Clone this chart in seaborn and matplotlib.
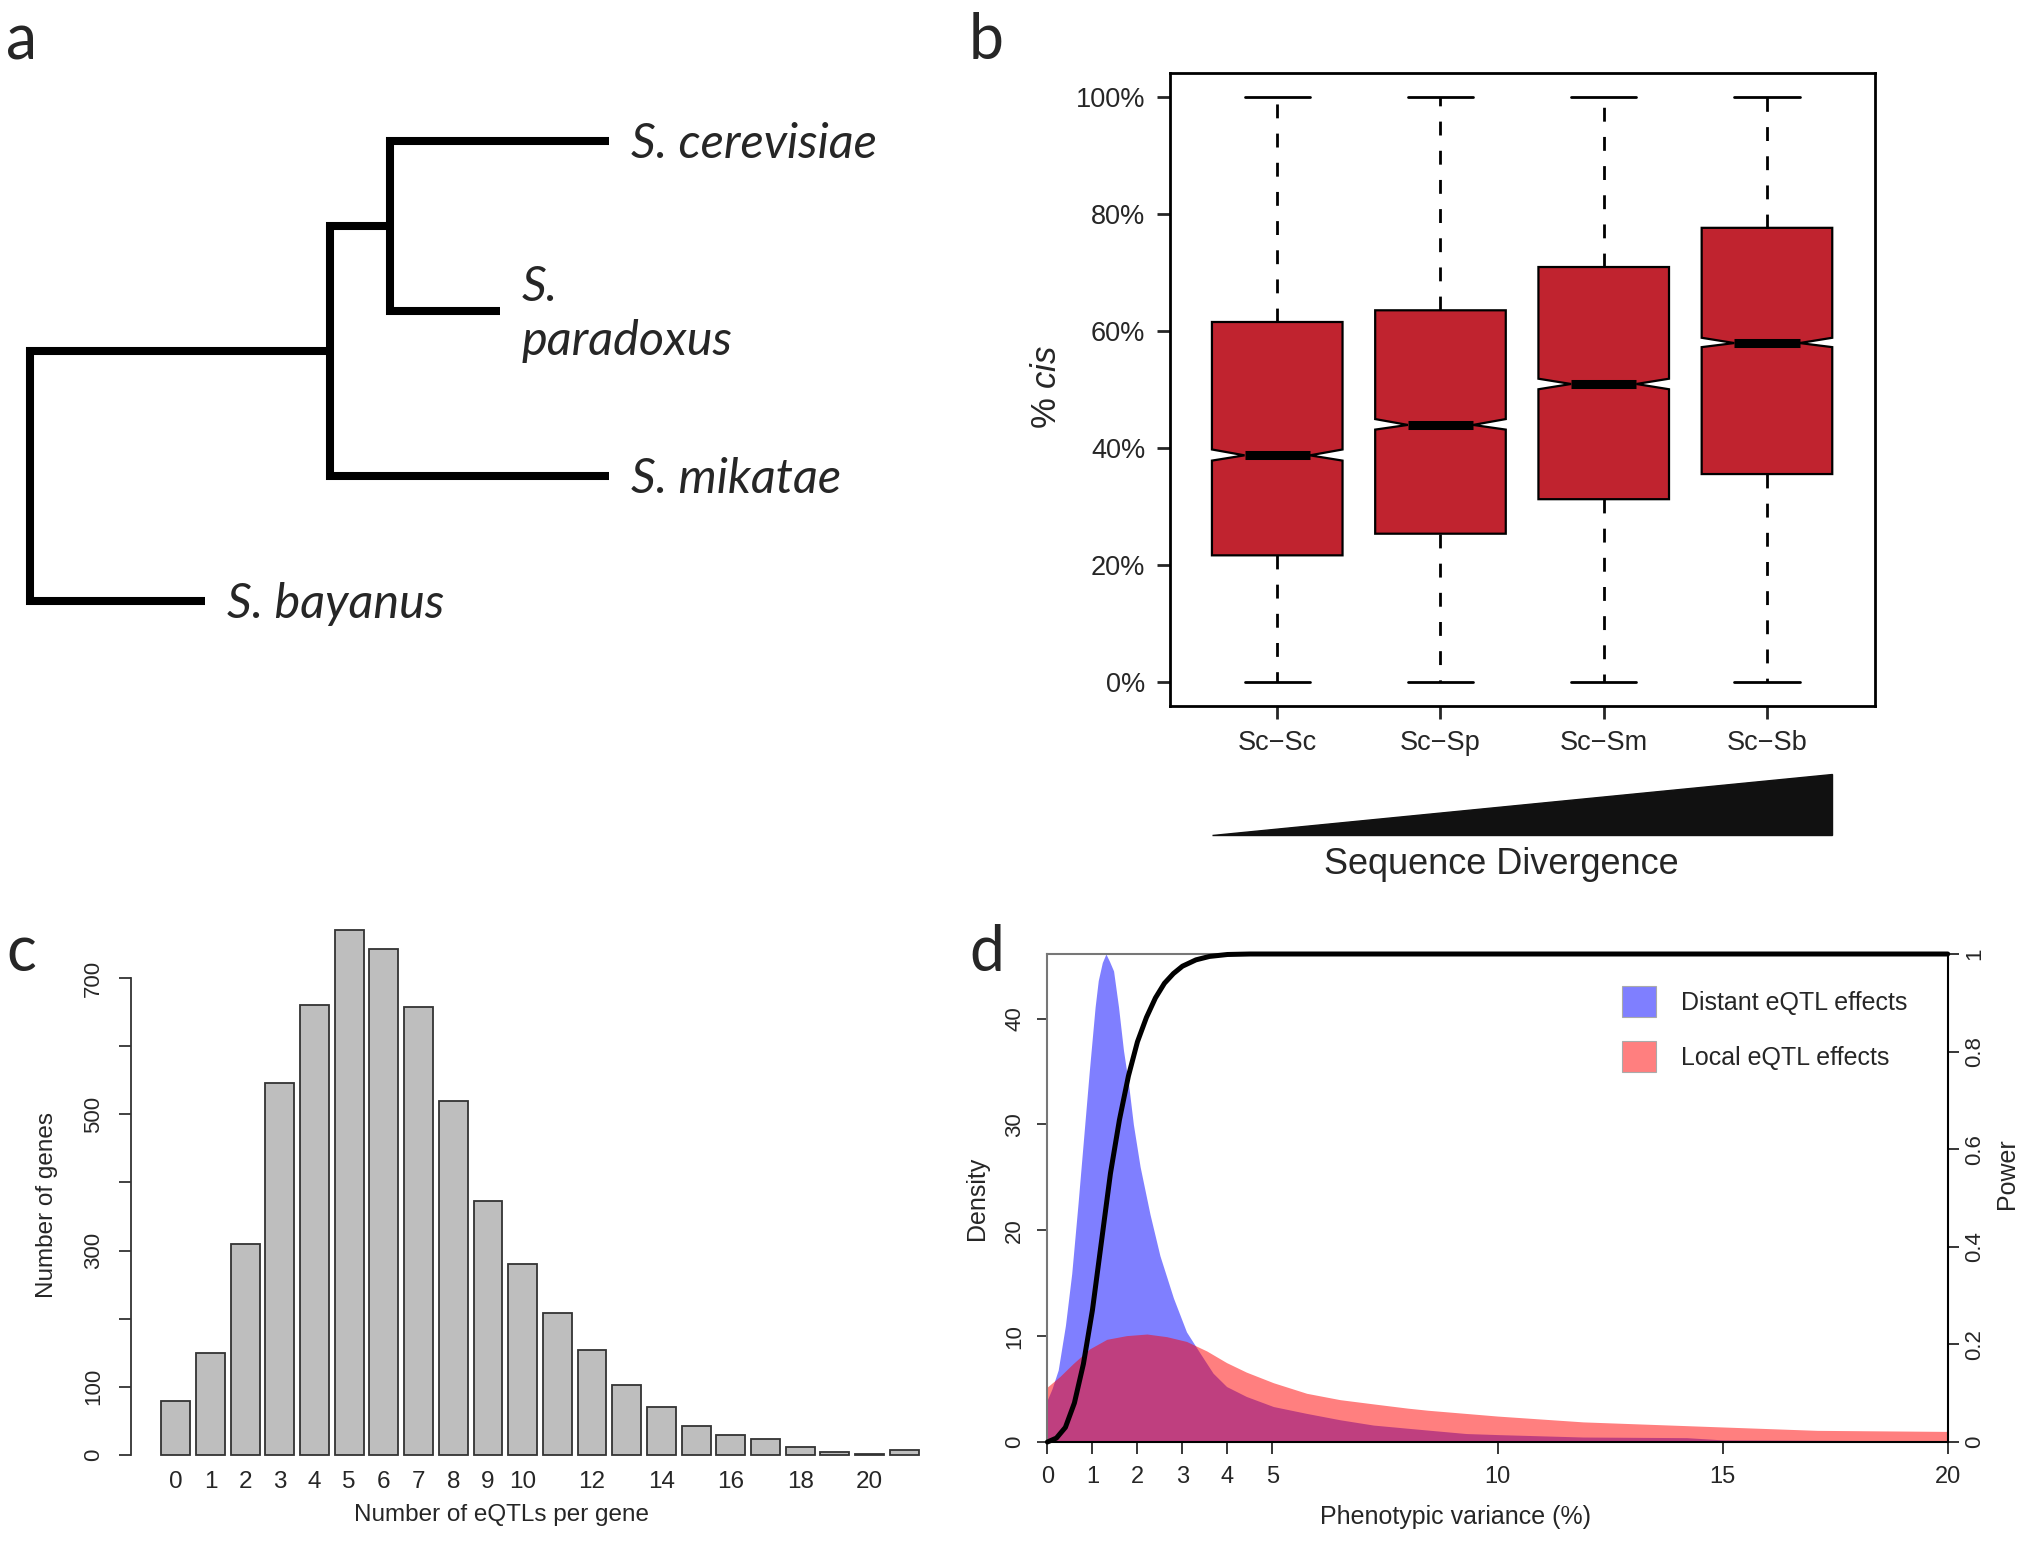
import numpy as np
import pandas as pd
import seaborn as sns
import matplotlib
matplotlib.use("Agg")
import matplotlib.pyplot as plt
from matplotlib import font_manager as fm
from matplotlib.patches import Polygon, Patch
from matplotlib.transforms import blended_transform_factory

# ---------------- dados ----------------
# a: arvore (posicoes em px do painel)
especies = ["S. cerevisiae", "S.\nparadoxus", "S. mikatae", "S. bayanus"]
ponta_x = [609, 500, 609, 205]
ponta_y = [141, 311, 476, 601]
no_x = [390, 330, 30]  # (cer,par), (cer+par,mik), raiz

# b: % cis por par de especies
pares = ["Sc\u2212Sc", "Sc\u2212Sp", "Sc\u2212Sm", "Sc\u2212Sb"]
cis_min = [0, 0, 0, 0]
cis_q1 = [21.6, 25.3, 31.2, 35.5]
cis_med = [38.7, 43.9, 50.9, 57.9]
cis_q3 = [61.5, 63.5, 70.9, 77.6]
cis_max = [100, 100, 100, 100]
cis_notch_lo = [37.8, 43.1, 50.0, 57.2]
cis_notch_hi = [39.7, 44.9, 51.8, 58.8]

# c: numero de eQTLs por gene
n_eqtl = list(range(22))
n_genes = [79, 149, 310, 546, 660, 771, 742, 657, 520, 372, 280, 209,
           154, 103, 70, 43, 30, 24, 11, 5, 2, 7]
c_ticks = [0, 1, 2, 3, 4, 5, 6, 7, 8, 9, 10, 12, 14, 16, 18, 20]
c_yticks = [0, 100, 200, 300, 400, 500, 600, 700]
c_ylabels = ["0", "100", "", "300", "", "500", "", "700"]

# d: densidades e poder
distant_x = [0, 0.1, 0.24, 0.4, 0.54, 0.68, 0.8, 0.93, 1.06, 1.13, 1.22, 1.3,
             1.38, 1.47, 1.58, 1.69, 1.8, 1.91, 2.06, 2.28, 2.5, 2.8, 3.09,
             3.39, 3.68, 3.98, 4.42, 5.02, 5.76, 6.5, 7.24, 8.0, 9.3, 10,
             11.9, 14.2, 15, 17.1, 20]
distant_d = [4.0, 5.0, 6.8, 11.0, 15.9, 22.5, 28.5, 35.0, 41.1, 43.6, 45.3, 46.1,
             45.4, 44.5, 41.1, 37.0, 33.9, 30.0, 26.0, 21.5, 17.6, 13.6, 10.4,
             8.4, 6.5, 5.24, 4.3, 3.35, 2.7, 2.1, 1.6, 1.3, 0.8, 0.7,
             0.47, 0.41, 0.2, 0.16, 0.1]
local_x = [0, 0.28, 0.57, 0.94, 1.32, 1.76, 2.21, 2.65, 3.09, 3.54, 3.98, 4.42,
           5.02, 5.76, 6.5, 7.24, 8.0, 8.45, 10, 11.9, 15, 17.1, 20]
local_d = [5.2, 6.2, 7.4, 8.8, 9.7, 10.05, 10.2, 9.95, 9.5, 8.6, 7.5, 6.6,
           5.6, 4.6, 4.0, 3.6, 3.2, 3.0, 2.45, 1.9, 1.42, 1.1, 1.0]
power_x = [0, 0.2, 0.4, 0.6, 0.8, 1.0, 1.2, 1.4, 1.6, 1.8, 2.0, 2.2, 2.4, 2.6,
           2.8, 3.0, 3.3, 3.6, 4.0, 4.5, 5, 20]
power_y = [0, 0.008, 0.03, 0.08, 0.16, 0.27, 0.41, 0.55, 0.66, 0.75, 0.82, 0.87,
           0.91, 0.94, 0.96, 0.975, 0.988, 0.995, 0.999, 1.0, 1.0, 1.0]
d_xticks = [0, 1, 2, 3, 4, 5, 10, 15, 20]
d_yticks = [0, 10, 20, 30, 40]
p_ticks = [0, 0.2, 0.4, 0.6, 0.8, 1]
p_labels = ["0", "0.2", "0.4", "0.6", "0.8", "1"]

# ---------------- estilo ----------------
W, H = 2030, 1545
sns.set_style("ticks")
plt.rcParams['font.family'] = ['Liberation Sans', 'DejaVu Sans']
plt.rcParams['mathtext.fontset'] = 'custom'
plt.rcParams['mathtext.rm'] = 'Liberation Sans'
plt.rcParams['mathtext.it'] = 'Liberation Sans:italic'


def tem_fonte(nome, estilo="normal"):
    return any(f.name == nome and f.style == estilo for f in fm.fontManager.ttflist)


fonte_ita = next((n for n in ["Lato", "Open Sans"] if tem_fonte(n, "italic")), "Liberation Sans")
fonte_let = next((n for n in ["Lato", "Open Sans"] if tem_fonte(n)), "Liberation Sans")

fig = plt.figure(figsize=(W / 100, H / 100), dpi=100)


def eixo(l, t, r, b):
    return fig.add_axes([l / W, 1 - b / H, (r - l) / W, (b - t) / H])


def texto(x, y, s, **kw):
    kw.setdefault("ha", "center")
    kw.setdefault("va", "center")
    fig.text(x / W, 1 - y / H, s, **kw)


# letras dos paineis
for letra, x, y in [("a", 6, 59), ("b", 969, 59), ("c", 6, 971), ("d", 969, 971)]:
    texto(x, y, letra, ha="left", va="baseline", fontsize=45, family=fonte_let)

# ---------------- a: arvore ----------------
ax_a = eixo(0, 0, 1000, 760)
ax_a.set_xlim(0, 1000)
ax_a.set_ylim(760, 0)
ax_a.axis("off")
mid0 = (ponta_y[0] + ponta_y[1]) / 2
mid1 = (mid0 + ponta_y[2]) / 2
ramos = [
    ([ponta_x[0], no_x[0], no_x[0], ponta_x[1]], [ponta_y[0], ponta_y[0], ponta_y[1], ponta_y[1]]),
    ([no_x[0], no_x[1], no_x[1], ponta_x[2]], [mid0, mid0, ponta_y[2], ponta_y[2]]),
    ([no_x[1], no_x[2], no_x[2], ponta_x[3]], [mid1, mid1, ponta_y[3], ponta_y[3]]),
]
for xs, ys in ramos:
    ax_a.plot(xs, ys, color="black", lw=5.8, solid_capstyle="butt", solid_joinstyle="miter")
for nome, x, y in zip(especies, ponta_x, ponta_y):
    ax_a.text(x + 22, y + 3, nome, ha="left", va="center", fontsize=35,
              style="italic", family=fonte_ita, linespacing=1.27)

# ---------------- b: boxplot ----------------
ax_b = eixo(1169.5, 72.5, 1874.7, 706)
stats = [dict(whislo=a, q1=b, med=c, q3=d, whishi=e, cilo=f, cihi=g, fliers=[])
         for a, b, c, d, e, f, g in zip(cis_min, cis_q1, cis_med, cis_q3, cis_max,
                                         cis_notch_lo, cis_notch_hi)]
pos_b = list(range(len(pares)))
larg_b = 0.8
ax_b.bxp(stats, positions=pos_b, widths=larg_b, capwidths=larg_b / 2, shownotches=True,
         patch_artist=True, showfliers=False, manage_ticks=False,
         boxprops=dict(facecolor="#C0232F", edgecolor="black", linewidth=1.6),
         medianprops=dict(color="black", linewidth=6.5, solid_capstyle="butt"),
         whiskerprops=dict(color="black", linewidth=2, linestyle=(0, (5.0, 5.5))),
         capprops=dict(color="black", linewidth=2))
ax_b.set_xlim(-0.66, len(pares) - 0.34)
ax_b.set_ylim(-4.16, 104.16)
ax_b.set_xticks(pos_b, pares)
ax_b.set_yticks(range(0, 101, 20), [f"{v}%" for v in range(0, 101, 20)])
ax_b.tick_params(length=9.4, width=2, labelsize=19.5, pad=8)
for s in ax_b.spines.values():
    s.set_linewidth(2)
    s.set_color("black")

# triangulo de divergencia
tr = blended_transform_factory(ax_b.transData, fig.transFigure)
x0 = pos_b[0] - larg_b / 2
x1 = pos_b[-1] + larg_b / 2
ax_b.add_patch(Polygon([(x0, 1 - 835 / H), (x1, 1 - 835 / H), (x1, 1 - 774 / H)],
                       closed=True, transform=tr, clip_on=False, color="#111111"))
texto(1501, 864, "Sequence Divergence", fontsize=26)
texto(1046, 387, r"% $\mathit{cis}$", rotation=90, fontsize=25)

# ---------------- c: histograma ----------------
ax_c = eixo(131, 908.6, 949, 1476)
df_c = pd.DataFrame({"eqtl": n_eqtl, "genes": n_genes})
sns.barplot(data=df_c, x="eqtl", y="genes", color="#BEBEBE", saturation=1,
            width=0.833, edgecolor="#333333", linewidth=1.3, errorbar=None, ax=ax_c)
ym = max(n_genes)
ax_c.set_xlim(-1.29, len(n_eqtl) - 1 + 1.29)
ax_c.set_ylim(-0.04 * ym, 1.04 * ym)
ax_c.set_xlabel("")
ax_c.set_ylabel("")
ax_c.set_xticks(c_ticks, [str(v) for v in c_ticks])
ax_c.set_yticks(c_yticks, c_ylabels)
for k in ["top", "right", "bottom"]:
    ax_c.spines[k].set_visible(False)
ax_c.spines["left"].set_bounds(c_yticks[0], c_yticks[-1])
ax_c.spines["left"].set_color("#333333")
ax_c.spines["left"].set_linewidth(1.3)
ax_c.tick_params(axis="x", length=0, labelsize=17.5, pad=-3.5)
ax_c.tick_params(axis="y", length=8.6, width=1.3, color="#333333", labelsize=16,
                 labelrotation=90, pad=11)
for t in ax_c.get_yticklabels():
    t.set_va("center")
texto(47, 1205, "Number of genes", rotation=90, fontsize=17.5)
texto(501, 1515, "Number of eQTLs per gene", fontsize=17.5)

# ---------------- d: densidades + poder ----------------
ax_d = eixo(1047.4, 954, 1947.7, 1442)
ax_d.fill_between(distant_x, distant_d, color=(0, 0, 1, 0.5), lw=0)
ax_d.fill_between(local_x, local_d, color=(1, 0, 0, 0.5), lw=0)
ax_d.set_xlim(0, 20)
ax_d.set_ylim(0, max(distant_d))
ax_d.set_xticks(d_xticks, [str(v) for v in d_xticks])
ax_d.set_yticks(d_yticks, [str(v) for v in d_yticks])
ax_d.tick_params(axis="x", length=8.6, width=1.3, labelsize=17, pad=9)
ax_d.tick_params(axis="y", length=7, width=1.3, color="#333333", labelsize=16,
                 labelrotation=90, pad=9)
for t in ax_d.get_yticklabels():
    t.set_va("center")
ax_d.spines["right"].set_visible(False)
for k in ["left", "top"]:
    ax_d.spines[k].set_color("#777777")
    ax_d.spines[k].set_linewidth(1.5)
ax_d.spines["bottom"].set_color("black")
ax_d.spines["bottom"].set_linewidth(1.5)

ax_p = ax_d.twinx()
sns.lineplot(x=power_x, y=power_y, ax=ax_p, color="black", linewidth=3.6)
for ln in ax_p.lines:
    ln.set_clip_on(False)
ax_p.set_ylim(0, 1)
ax_p.set_xlim(0, 20)
ax_p.set_xlabel("")
ax_p.set_ylabel("")
ax_p.set_yticks(p_ticks, p_labels)
ax_p.tick_params(axis="y", length=8, width=1.3, labelsize=16, labelrotation=90, pad=4)
for t in ax_p.get_yticklabels():
    t.set_va("center")
for k in ["left", "top", "bottom"]:
    ax_p.spines[k].set_visible(False)
ax_p.spines["right"].set_color("black")
ax_p.spines["right"].set_linewidth(1.5)

handles = [Patch(facecolor=(0, 0, 1, 0.5), edgecolor="#aaaaaa", lw=0.8),
           Patch(facecolor=(1, 0, 0, 0.5), edgecolor="#aaaaaa", lw=0.8)]
ax_p.legend(handles, ["Distant eQTL effects", "Local eQTL effects"],
            loc="upper left", bbox_to_anchor=(1622 / W, 1 - 986 / H),
            bbox_transform=fig.transFigure, frameon=False, fontsize=18,
            handlelength=1.36, handleheight=1.55, handletextpad=1.0,
            labelspacing=0.95, borderpad=0, borderaxespad=0)

texto(977, 1198, "Density", rotation=90, fontsize=18)
texto(2007, 1174, "Power", rotation=90, fontsize=18)
texto(1455, 1517, "Phenotypic variance (%)", fontsize=18)

fig.savefig("out.png", dpi=100)
